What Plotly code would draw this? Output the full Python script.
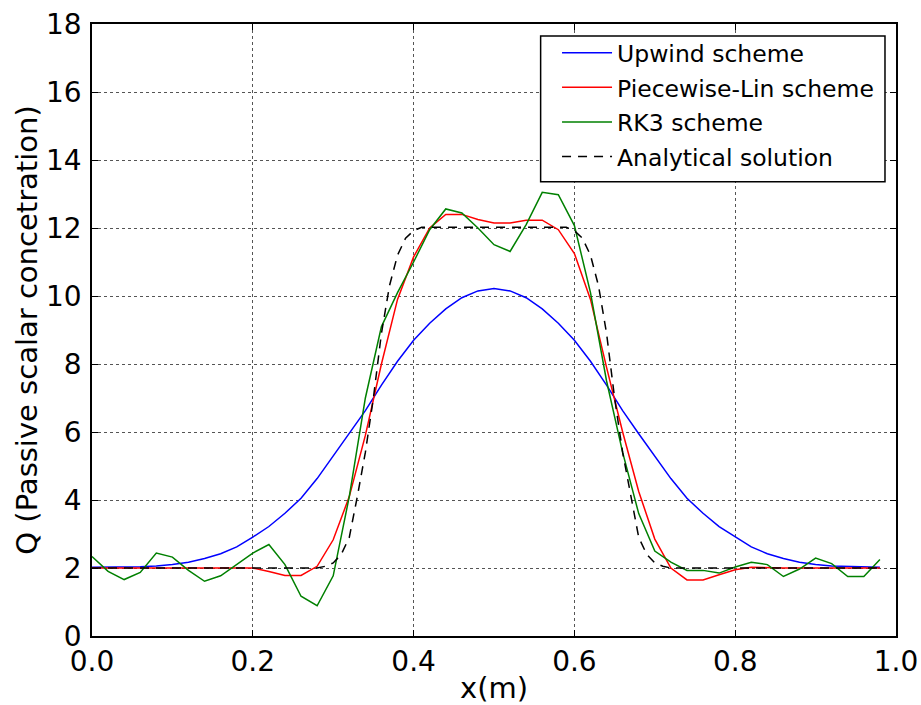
import plotly.graph_objects as go

x = [0.00, 0.02, 0.04, 0.06, 0.08, 0.10, 0.12, 0.14, 0.16, 0.18,
     0.20, 0.22, 0.24, 0.26, 0.28, 0.30, 0.32, 0.34, 0.36, 0.38,
     0.40, 0.42, 0.44, 0.46, 0.48, 0.50, 0.52, 0.54, 0.56, 0.58,
     0.60, 0.62, 0.64, 0.66, 0.68, 0.70, 0.72, 0.74, 0.76, 0.78,
     0.80, 0.82, 0.84, 0.86, 0.88, 0.90, 0.92, 0.94, 0.96, 0.98]

upwind = [2.02, 2.02, 2.03, 2.04, 2.06, 2.10, 2.17, 2.28, 2.42, 2.62,
          2.91, 3.22, 3.61, 4.05, 4.63, 5.30, 5.95, 6.63, 7.38, 8.08,
          8.70, 9.20, 9.62, 9.95, 10.15, 10.22, 10.15, 9.95, 9.62, 9.20,
          8.70, 8.08, 7.38, 6.63, 5.95, 5.30, 4.63, 4.05, 3.61, 3.22,
          2.91, 2.62, 2.42, 2.28, 2.17, 2.10, 2.06, 2.04, 2.03, 2.02]

piecewise = [2.0, 2.0, 2.0, 2.0, 2.0, 2.0, 2.0, 2.0, 2.0, 2.0,
             2.0, 1.9, 1.78, 1.78, 2.05, 2.83, 4.1, 5.9, 8.0, 9.9,
             11.15, 12.0, 12.4, 12.4, 12.25, 12.15, 12.15, 12.23, 12.23, 11.95,
             11.25, 9.9, 7.9, 6.0, 4.25, 2.85, 2.0, 1.65, 1.65, 1.8,
             1.95, 2.02, 2.0, 2.0, 2.0, 2.0, 2.0, 2.0, 2.0, 2.0]

rk3 = [2.34, 1.90, 1.66, 1.87, 2.44, 2.32, 1.93, 1.61, 1.77, 2.10,
       2.44, 2.69, 2.10, 1.17, 0.89, 1.77, 4.1, 7.0, 9.1, 10.1,
       11.0, 11.95, 12.56, 12.44, 12.0, 11.51, 11.31, 12.1, 13.05, 12.98,
       12.07, 10.1, 7.5, 5.4, 3.6, 2.5, 2.17, 1.93, 1.93, 1.85,
       2.03, 2.17, 2.1, 1.75, 1.97, 2.29, 2.13, 1.75, 1.75, 2.25]

x_analytical = [0.0, 0.28, 0.29, 0.30, 0.31, 0.32, 0.33, 0.34, 0.35, 0.36,
                0.37, 0.38, 0.39, 0.40, 0.41, 0.59, 0.60, 0.61, 0.62, 0.63,
                0.64, 0.65, 0.66, 0.67, 0.68, 0.69, 0.70, 0.71, 0.72, 0.98]
analytical = [2.0, 2.0, 2.05, 2.15, 2.4, 2.9, 4.1, 5.4, 7.0, 8.9,
              10.3, 11.2, 11.7, 11.92, 12.02, 12.02, 11.92, 11.7, 11.2, 10.3,
              8.9, 7.0, 5.4, 4.1, 2.9, 2.4, 2.15, 2.05, 2.0, 2.0]

names = ["Upwind scheme", "Piecewise-Lin scheme", "RK3 scheme", "Analytical solution"]
x_ticks = [0.0, 0.2, 0.4, 0.6, 0.8, 1.0]
y_ticks = [0, 2, 4, 6, 8, 10, 12, 14, 16, 18]

FONT = "DejaVu Sans"

fig = go.Figure()
fig.add_trace(go.Scatter(x=x, y=upwind, mode="lines", name=names[0], legendgroup="a",
                         line=dict(color="#0000ff", width=1.5)))
fig.add_trace(go.Scatter(x=x, y=piecewise, mode="lines", name=names[1], legendgroup="b",
                         line=dict(color="#ff0000", width=1.5)))
fig.add_trace(go.Scatter(x=x, y=rk3, mode="lines", name=names[2], legendgroup="c",
                         line=dict(color="#008000", width=1.5)))
fig.add_trace(go.Scatter(x=x_analytical, y=analytical, mode="lines", name=names[3], legendgroup="d",
                         line=dict(color="#000000", width=1.5, dash="9px,7px")))

axis_common = dict(
    showline=True, linecolor="black", linewidth=1.5, mirror="ticks",
    ticks="inside", ticklen=6, tickwidth=1, tickcolor="black",
    showgrid=True, gridcolor="#555555", gridwidth=1, griddash="dot",
    zeroline=False, tickfont=dict(family=FONT, size=28, color="black"),
)

fig.update_xaxes(range=[0, 1], tickvals=x_ticks, ticktext=[f"{v:.1f}" for v in x_ticks],
                 title=dict(text="x(m)", font=dict(family=FONT, size=29, color="black"), standoff=4),
                 ticklabelstandoff=0, **axis_common)
fig.update_yaxes(range=[0, 18], tickvals=y_ticks, ticktext=[str(v) for v in y_ticks],
                 title=dict(text="Q (Passive scalar concetration)",
                            font=dict(family=FONT, size=29, color="black"), standoff=0),
                 ticklabelstandoff=3, **axis_common)

# legend frame drawn as a white box with black border
fig.add_shape(type="rect", xref="paper", yref="paper",
              x0=0.558, x1=0.9863, y0=0.7423, y1=0.9804,
              fillcolor="white", line=dict(color="black", width=1.5), layer="above")

fig.update_layout(
    width=921, height=705,
    margin=dict(l=92, r=25, t=24, b=69, pad=0, autoexpand=False),
    paper_bgcolor="white", plot_bgcolor="white",
    font=dict(family=FONT, color="black"),
    legend=dict(
        x=0.5784, y=0.9885, xanchor="left", yanchor="top",
        bgcolor="rgba(0,0,0,0)", borderwidth=0,
        font=dict(family=FONT, size=23.5, color="black"),
        traceorder="grouped", tracegroupgap=1, itemwidth=50,
    ),
    showlegend=True,
)

fig.write_html("out.html")
